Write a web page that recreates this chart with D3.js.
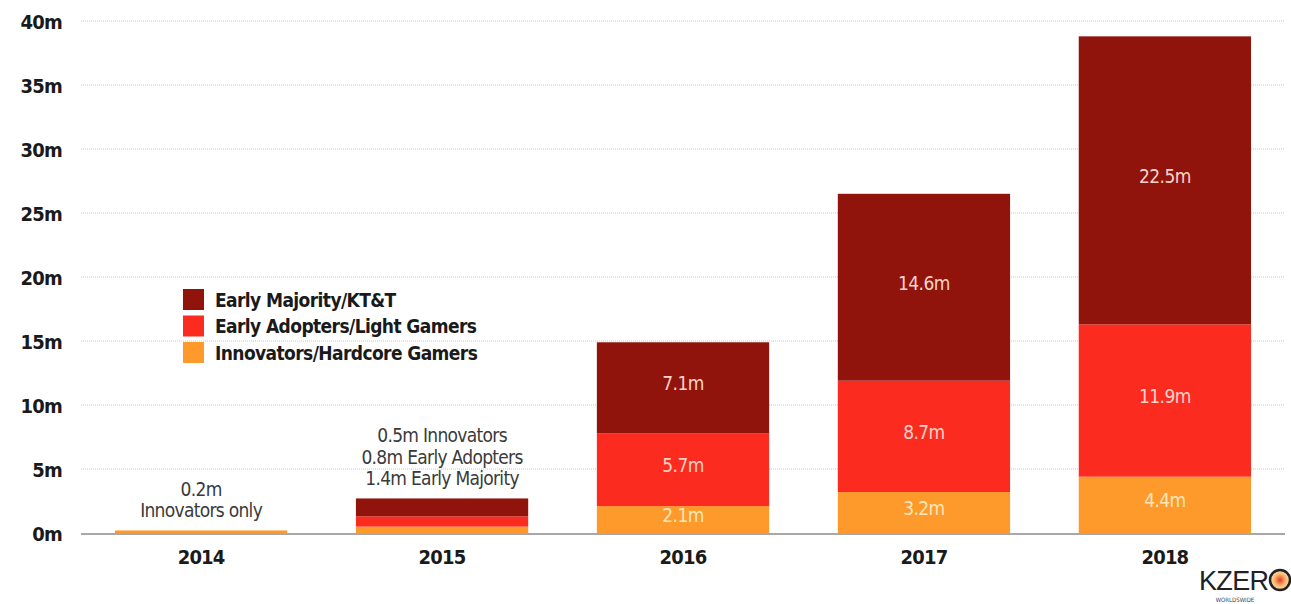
<!DOCTYPE html>
<html>
<head>
<meta charset="utf-8">
<script src="https://cdn.jsdelivr.net/npm/d3@7"></script>
<style>
  body { margin: 0; background: #fff; }
  svg text { font-family: "Liberation Sans Narrow", "DejaVu Sans Condensed", "Noto Sans", sans-serif; }
</style>
</head>
<body>
<div class="chart"></div>
<script>
// data (millions)
const years = ["2014", "2015", "2016", "2017", "2018"];
const innovators = [0.2, 0.5, 2.1, 3.2, 4.4];
const earlyAdopters = [0, 0.8, 5.7, 8.7, 11.9];
const earlyMajority = [0, 1.4, 7.1, 14.6, 22.5];
const yTicks = [0, 5, 10, 15, 20, 25, 30, 35, 40];

const seriesKeys = ["innovators", "earlyAdopters", "earlyMajority"];
const seriesNames = {
  earlyMajority: "Early Majority/KT&T",
  earlyAdopters: "Early Adopters/Light Gamers",
  innovators: "Innovators/Hardcore Gamers"
};
const colors = { innovators: "#fd9a2b", earlyAdopters: "#fc2b1f", earlyMajority: "#90140c" };

// notes shown above the small bars
const notes = {
  "2014": ["0.2m", "Innovators only"],
  "2015": ["0.5m Innovators", "0.8m Early Adopters", "1.4m Early Majority"]
};

const width = 1291, height = 604;
const margin = { top: 21, right: 6, bottom: 71, left: 81 };

const table = years.map((y, i) => ({
  year: y,
  innovators: innovators[i],
  earlyAdopters: earlyAdopters[i],
  earlyMajority: earlyMajority[i]
}));

const svg = d3.select(".chart").append("svg")
  .attr("width", width)
  .attr("height", height);

const x = d3.scaleBand()
  .domain(years)
  .range([margin.left, width - margin.right])
  .paddingInner(0.285)
  .paddingOuter(0.141);

const y = d3.scaleLinear()
  .domain([0, 40])
  .range([height - margin.bottom, margin.top]);

// gridlines
svg.append("g")
  .selectAll("line")
  .data(yTicks.filter(d => d > 0))
  .join("line")
  .attr("x1", margin.left)
  .attr("x2", width - margin.right)
  .attr("y1", d => y(d))
  .attr("y2", d => y(d))
  .attr("stroke", "#c8c8c8")
  .attr("stroke-width", 1)
  .attr("stroke-dasharray", "1,1");

// y axis labels
const yAxis = svg.append("g")
  .attr("transform", `translate(${margin.left - 19},0)`)
  .call(d3.axisLeft(y).tickValues(yTicks).tickFormat(d => d + "m").tickSize(0).tickPadding(0));
yAxis.select(".domain").remove();
yAxis.selectAll("text")
  .attr("font-size", 20)
  .attr("font-weight", "bold")
  .attr("letter-spacing", "-0.8px")
  .attr("fill", "#1a1a1a")
  .attr("dy", "0.35em");

// stacked bars
const stacked = d3.stack().keys(seriesKeys)(table);

const layers = svg.append("g")
  .selectAll("g")
  .data(stacked)
  .join("g")
  .attr("fill", d => colors[d.key]);

layers.selectAll("rect")
  .data(d => d)
  .join("rect")
  .attr("x", d => x(d.data.year))
  .attr("width", x.bandwidth())
  .attr("y", d => y(d[1]))
  .attr("height", d => y(d[0]) - y(d[1]));

// value labels inside the taller bars
const labelData = [];
stacked.forEach(layer => {
  layer.forEach(d => {
    const total = d.data.innovators + d.data.earlyAdopters + d.data.earlyMajority;
    const v = d[1] - d[0];
    if (total > 10 && v > 0) labelData.push({ year: d.data.year, v: v, mid: (d[0] + d[1]) / 2, key: layer.key });
  });
});

svg.append("g")
  .selectAll("text")
  .data(labelData)
  .join("text")
  .attr("x", d => x(d.year) + x.bandwidth() / 2)
  .attr("y", d => y(d.mid) - 4)
  .attr("dy", "0.35em")
  .attr("text-anchor", "middle")
  .attr("font-size", 19)
  .attr("letter-spacing", "-0.6px")
  .attr("fill", d => d.key === "innovators" ? "#ffe6bd" : "#fbd3cb")
  .text(d => d3.format(".1f")(d.v) + "m");

// notes over the small bars
Object.keys(notes).forEach(yr => {
  const idx = years.indexOf(yr);
  const total = innovators[idx] + earlyAdopters[idx] + earlyMajority[idx];
  const lines = notes[yr];
  const t = svg.append("text")
    .attr("text-anchor", "middle")
    .attr("font-size", 19)
    .attr("letter-spacing", "-0.7px")
    .attr("fill", "#3a3a3a");
  lines.forEach((l, j) => {
    t.append("tspan")
      .attr("x", x(yr) + x.bandwidth() / 2)
      .attr("y", y(total) - 13 - (lines.length - 1 - j) * 21.5)
      .text(l);
  });
});

// baseline
svg.append("line")
  .attr("x1", margin.left)
  .attr("x2", width - margin.right)
  .attr("y1", y(0) + 1)
  .attr("y2", y(0) + 1)
  .attr("stroke", "#a8a8a8")
  .attr("stroke-width", 2);

// x axis labels
const xAxis = svg.append("g")
  .attr("transform", `translate(0,${y(0)})`)
  .call(d3.axisBottom(x).tickSize(0).tickPadding(17));
xAxis.select(".domain").remove();
xAxis.selectAll("text")
  .attr("font-size", 20)
  .attr("font-weight", "bold")
  .attr("letter-spacing", "-0.8px")
  .attr("fill", "#1a1a1a");

// legend
const legendKeys = ["earlyMajority", "earlyAdopters", "innovators"];
const legend = svg.append("g")
  .attr("transform", "translate(183,289)");
const li = legend.selectAll("g")
  .data(legendKeys)
  .join("g")
  .attr("transform", (d, i) => `translate(0,${i * 26.5})`);
li.append("rect")
  .attr("width", 21)
  .attr("height", 21)
  .attr("fill", d => colors[d]);
li.append("text")
  .attr("x", 32)
  .attr("y", 11)
  .attr("dy", "0.35em")
  .attr("font-size", 19)
  .attr("font-weight", "bold")
  .attr("letter-spacing", "-0.6px")
  .attr("fill", "#1a1a1a")
  .text(d => seriesNames[d]);

// KZERO mark
const logo = svg.append("g").attr("transform", "translate(1199,568)");
logo.append("text")
  .attr("x", 0)
  .attr("y", 22)
  .attr("font-size", 27)
  .attr("fill", "#222")
  .style("font-family", "'Liberation Sans', sans-serif")
  .attr("textLength", 70)
  .text("KZER");
const grad = svg.append("defs").append("radialGradient").attr("id", "kz");
grad.append("stop").attr("offset", "0%").attr("stop-color", "#e8362a");
grad.append("stop").attr("offset", "55%").attr("stop-color", "#f6b36a");
grad.append("stop").attr("offset", "100%").attr("stop-color", "#fbe3b8");
logo.append("circle")
  .attr("cx", 81)
  .attr("cy", 12)
  .attr("r", 10)
  .attr("fill", "url(#kz)")
  .attr("stroke", "#222")
  .attr("stroke-width", 2.5);
logo.append("text")
  .attr("x", 36)
  .attr("y", 34)
  .attr("text-anchor", "middle")
  .attr("font-size", 6)
  .attr("fill", "#444")
  .text("WORLDSWIDE");
</script>
</body>
</html>
